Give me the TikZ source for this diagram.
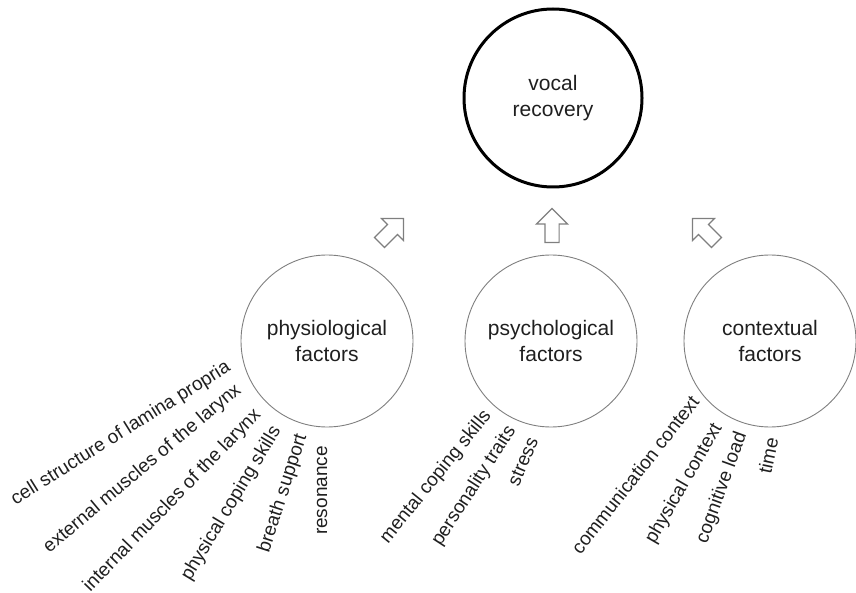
\documentclass[tikz,border=0pt]{standalone}
\usepackage{fontspec}
\setmainfont{Liberation Sans}
\usetikzlibrary{shapes.arrows}
\definecolor{linegray}{HTML}{7F7F7F}
\definecolor{inkgray}{HTML}{1F1F1F}
\tikzset{
  factor/.style={circle, draw=linegray, line width=0.9pt, minimum size=172pt,
    align=center, text=inkgray, font=\fontsize{21}{26}\selectfont},
  goal/.style={factor, draw=black, line width=3pt, minimum size=178pt},
  item/.style={anchor=east, inner sep=0pt, text=inkgray,
    font=\fontsize{19}{22}\selectfont},
  push/.style={single arrow, draw=linegray, line width=1.2pt,
    inner xsep=0pt, inner ysep=6.5pt, text height=0pt, text depth=0pt,
    minimum height=34pt, single arrow head extend=8.5pt}
}

\begin{document}
\begin{tikzpicture}[x=1pt, y=-1pt]
\useasboundingbox (0,0) rectangle (856,593);

\node[goal] (vr) at (553,98) {vocal\\recovery};

\node[factor] (phys) at (327,341) {physiological\\factors};
\node[factor] (psych) at (551,341) {psychological\\factors};
\node[factor] (ctx) at (770,341) {contextual\\factors};

% arrows towards vocal recovery
\node[push, rotate=45] (a1) at (389,233) {};
\node[push, rotate=90] (a2) at (552,229) {};
\node[push, rotate=135] (a3) at (707,233) {};

% physiological
\node[item, rotate=32] (cell) at (229,366) {cell structure of lamina propria};
\node[item, rotate=40] (extm) at (239,388) {external muscles of the larynx};
\node[item, rotate=46] (intm) at (258,412) {internal muscles of the larynx};
\node[item, rotate=59] (pcs) at (277,428) {physical coping skills};
\node[item, rotate=72] (breath) at (302,435) {breath support};
\node[item, rotate=90] (reson) at (322,446) {resonance};

% psychological
\node[item, rotate=51] (mcs) at (488,413) {mental coping skills};
\node[item, rotate=57] (pers) at (512,428) {personality traits};
\node[item, rotate=67] (stress) at (533,438) {stress};

% contextual
\node[item, rotate=52] (comm) at (695,398) {communication context};
\node[item, rotate=60] (physctx) at (718,425) {physical context};
\node[item, rotate=70] (cog) at (742,433) {cognitive load};
\node[item, rotate=78] (time) at (772,438) {time};
\end{tikzpicture}
\end{document}
